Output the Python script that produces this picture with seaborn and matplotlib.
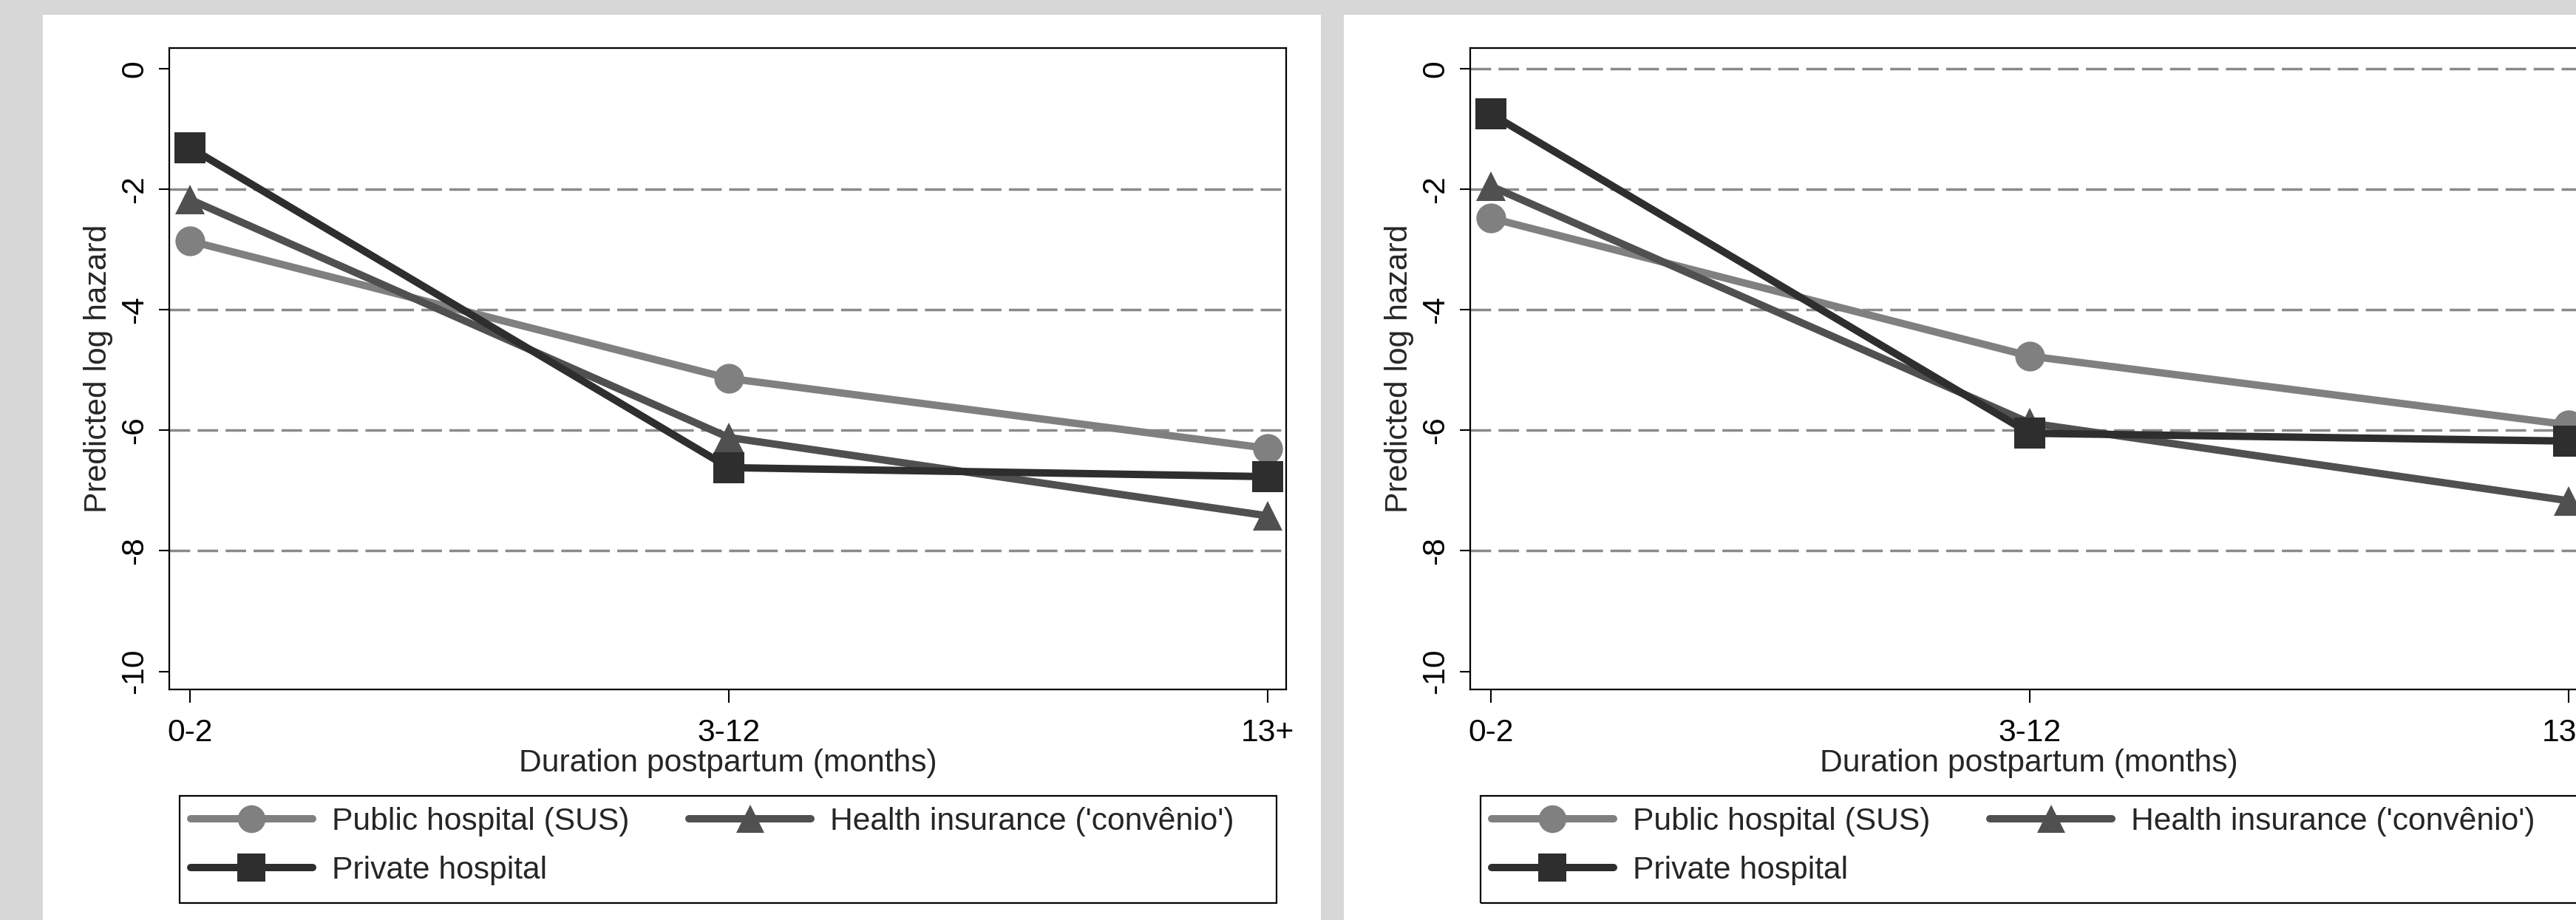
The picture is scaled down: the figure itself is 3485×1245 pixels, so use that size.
import numpy as np
import pandas as pd
import matplotlib
matplotlib.use("Agg")
import matplotlib.pyplot as plt
from matplotlib.lines import Line2D
from matplotlib.patches import Rectangle
import seaborn as sns

# values
durations = ["0-2", "3-12", "13+"]
series = ["Public hospital (SUS)", "Health insurance ('convênio')", "Private hospital"]

left_public = [-2.86, -5.14, -6.30]
left_insurance = [-2.17, -6.12, -7.42]
left_private = [-1.31, -6.62, -6.77]

right_public = [-2.48, -4.77, -5.91]
right_insurance = [-1.95, -5.88, -7.17]
right_private = [-0.75, -6.05, -6.18]

y_ticks = [0, -2, -4, -6, -8, -10]
grid_left = [-2, -4, -6, -8]
grid_right = [0, -2, -4, -6, -8]

colors = {series[0]: "#808080", series[1]: "#505050", series[2]: "#2e2e2e"}
markers = ["o", "^", "s"]

sns.set_style("ticks")
plt.rcParams["font.family"] = ["Liberation Sans", "DejaVu Sans"]
plt.rcParams["axes.unicode_minus"] = False

W, H = 3485, 1245
FS = 30.7


def fx(px):
    return px / W


def fy(py):
    return 1 - py / H


def make_df(pub, ins, pri):
    rows = []
    for name, vals in zip(series, [pub, ins, pri]):
        for d, v in zip(durations, vals):
            rows.append({"duration": d, "hazard": v, "group": name})
    return pd.DataFrame(rows)


fig = plt.figure(figsize=(W / 100, H / 100), dpi=100, facecolor="#d7d7d7")

panels = [
    (0, make_df(left_public, left_insurance, left_private), grid_left),
    (1760, make_df(right_public, right_insurance, right_private), grid_right),
]

for off, df, grid_vals in panels:
    # white panel behind each graph
    fig.add_artist(Rectangle((fx(58 + off), 0), fx(1787) - fx(58), fy(20),
                             transform=fig.transFigure, facecolor="white",
                             edgecolor="none", zorder=-5))

    ax = fig.add_axes([fx(229 + off), fy(933), fx(1740) - fx(229), fy(65) - fy(933)])
    ax.set_facecolor("white")

    for g in grid_vals:
        ax.axhline(g, color="#8a8a8a", lw=2.5, linestyle=(0, (8, 2.9)), zorder=1)

    sns.pointplot(data=df, x="duration", y="hazard", hue="group",
                  order=durations, hue_order=series, palette=colors,
                  markers=markers, linestyles=["-", "-", "-"],
                  errorbar=None, legend=False, ax=ax,
                  markersize=29, linewidth=7.2, markeredgewidth=0)
    for ln in ax.lines:
        if ln.get_marker() in markers:
            ln.set_markersize(30 if ln.get_marker() == "s" else 29)
            ln.set_linewidth(7.2)
            ln.set_zorder(3)

    ax.set_xlim(-0.038, 2.034)
    ax.set_ylim(-10.30, 0.34)
    ax.set_yticks(y_ticks)
    ax.set_yticklabels([str(t) for t in y_ticks])
    ax.set_xticks(range(len(durations)))
    ax.set_xticklabels(durations)

    ax.tick_params(axis="y", labelsize=FS, length=10, width=1.5, pad=9.4,
                   labelrotation=90, colors="black")
    ax.tick_params(axis="x", labelsize=FS, length=13, width=1.5, pad=15,
                   colors="black")
    plt.setp(ax.get_yticklabels(), va="center")

    for sp in ax.spines.values():
        sp.set_visible(True)
        sp.set_color("black")
        sp.set_linewidth(1.6)

    ax.set_xlabel("Duration postpartum (months)", fontsize=FS)
    ax.set_ylabel("Predicted log hazard", fontsize=FS)
    ax.xaxis.set_label_coords(0.5, -0.0922)
    ax.yaxis.set_label_coords((153 - 229) / 1511, 0.5)

    handles = [Line2D([], [], color=colors[s], marker=m, markersize=27,
                      linewidth=7.2, markeredgewidth=0)
               for s, m in zip(series, markers)]
    # row-major order: Public, Health in the first row
    order = [0, 2, 1]
    ax.legend([handles[i] for i in order], [series[i] for i in order],
              ncol=2, loc="upper left", frameon=False,
              bbox_to_anchor=(fx(243 + off), fy(1077)),
              bbox_transform=fig.transFigure, borderaxespad=0,
              borderpad=0.35, fontsize=FS, handlelength=3.87,
              handletextpad=0.61, columnspacing=1.9, labelspacing=0.62)
    fig.add_artist(Rectangle((fx(243 + off), fy(1222)), fx(1727) - fx(243),
                             fy(1077) - fy(1222), transform=fig.transFigure,
                             fill=False, edgecolor="black", lw=1.6, zorder=5))

fig.savefig("out.png", dpi=100, facecolor=fig.get_facecolor())
